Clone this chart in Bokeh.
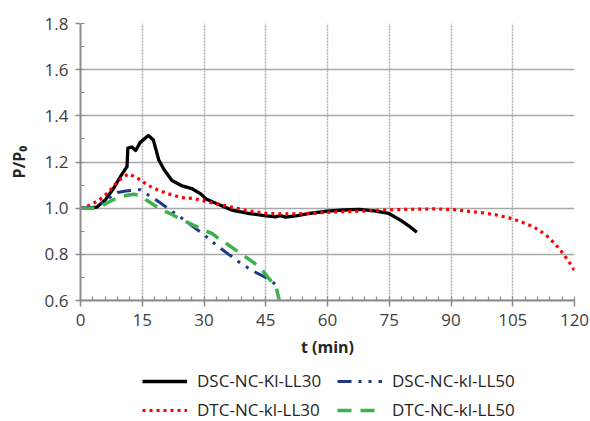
from bokeh.plotting import figure
from bokeh.models import Range1d, SingleIntervalTicker, Legend, LegendItem, PrintfTickFormatter
from bokeh.layouts import column
from bokeh.embed import file_html
from bokeh.resources import INLINE

# ---- data ----
t_dsc30 = [0, 2, 4, 6, 8, 10, 11.3, 11.5, 12.5, 13.4, 14.5, 16.5, 17.7, 19, 20.2, 22.2, 24.5, 27,
           29.2, 30.5, 33, 37, 40.5, 44.6, 47.4, 48.5, 49.8, 52.7, 56, 60, 64, 67.7, 71.3, 74.9,
           77.8, 80, 81.7]
p_dsc30 = [1.0, 1.0, 1.005, 1.035, 1.085, 1.145, 1.18, 1.26, 1.265, 1.25, 1.285, 1.315, 1.295,
           1.21, 1.17, 1.12, 1.098, 1.085, 1.062, 1.04, 1.02, 0.99, 0.978, 0.968, 0.962, 0.968,
           0.961, 0.968, 0.978, 0.987, 0.992, 0.995, 0.988, 0.977, 0.947, 0.92, 0.896]

t_dsc50 = [0, 3, 5, 7, 9, 11, 13, 14.5, 16, 18, 20, 22, 24, 27, 30, 33, 36, 39, 42, 45, 47.8]
p_dsc50 = [1.0, 1.003, 1.02, 1.045, 1.068, 1.074, 1.078, 1.08, 1.062, 1.04, 1.015, 0.99, 0.965,
           0.925, 0.885, 0.84, 0.80, 0.76, 0.727, 0.70, 0.665]

t_dtc30 = [0, 2, 4.4, 6.8, 9.2, 11.7, 14.1, 16.5, 19, 21.4, 24.5, 27.5, 30.8, 34.8, 40.5, 44.6,
           48.6, 52.7, 57.9, 60, 68, 75.4, 80, 86.3, 91.2, 94.4, 97.6, 100.9, 104.1, 106.9, 110.2,
           113, 115.5, 117.1, 119.1, 120]
p_dtc30 = [1.0, 1.011, 1.033, 1.069, 1.12, 1.149, 1.127, 1.098, 1.077, 1.062, 1.046, 1.042,
           1.028, 1.012, 0.99, 0.978, 0.975, 0.975, 0.980, 0.982, 0.987, 0.993, 0.995, 0.997,
           0.993, 0.986, 0.98, 0.971, 0.958, 0.942, 0.918, 0.885, 0.841, 0.806, 0.756, 0.73]

t_dtc50 = [0, 3, 5, 7, 9, 11, 13, 14.5, 16, 18, 20, 22, 24, 27, 30, 32, 34, 36, 38, 40, 42, 44,
           46, 47.5, 48.3]
p_dtc50 = [1.0, 1.0, 1.008, 1.028, 1.045, 1.055, 1.06, 1.055, 1.035, 1.012, 0.99, 0.975, 0.955,
           0.93, 0.905, 0.89, 0.862, 0.84, 0.815, 0.79, 0.765, 0.735, 0.69, 0.66, 0.6]

labels = ["DSC-NC-Kl-LL30", "DSC-NC-kl-LL50", "DTC-NC-kl-LL30", "DTC-NC-kl-LL50"]
x_ticks_interval = 15
y_ticks_interval = 0.2

FONT = "Open Sans"

series = [
    (t_dsc30, p_dsc30, dict(line_color="black", line_width=3.3, line_join="round")),
    (t_dsc50, p_dsc50, dict(line_color="#1c3a87", line_width=3, line_dash="14 7 3 7 3 7")),
    (t_dtc30, p_dtc30, dict(line_color="#ff0000", line_width=3.2, line_dash="3 4")),
    (t_dtc50, p_dtc50, dict(line_color="#3cb34a", line_width=3.5, line_dash="14 9")),
]
draw_order = [0, 2, 1, 3]

# ---- main chart ----
p = figure(width=590, height=365, output_backend="svg", toolbar_location=None,
           x_range=Range1d(0, 120), y_range=Range1d(0.6, 1.8),
           min_border_left=80, min_border_right=16, min_border_top=23, min_border_bottom=65)
p.outline_line_color = None

for i in draw_order:
    t, v, st = series[i]
    p.line(t, v, **st)

p.xaxis.ticker = SingleIntervalTicker(interval=x_ticks_interval, num_minor_ticks=5)
p.yaxis.ticker = SingleIntervalTicker(interval=y_ticks_interval, num_minor_ticks=2)
p.yaxis.formatter = PrintfTickFormatter(format="%.1f")

for ax in (p.xaxis[0], p.yaxis[0]):
    ax.axis_line_color = "#8c8c8c"
    ax.axis_line_width = 2
    ax.major_tick_line_color = "#8c8c8c"
    ax.minor_tick_line_color = "#8c8c8c"
    ax.major_tick_line_width = 1.5
    ax.minor_tick_line_width = 1.2
    ax.major_tick_in = 0
    ax.major_tick_out = 5
    ax.minor_tick_in = 4
    ax.minor_tick_out = 0
    ax.major_label_text_font = FONT
    ax.major_label_text_font_size = "17px"
    ax.major_label_text_color = "#404040"
    ax.axis_label_text_font = FONT
    ax.axis_label_text_font_size = "16px"
    ax.axis_label_text_font_style = "bold"
    ax.axis_label_text_color = "#262626"

p.xaxis.major_tick_out = 6
p.xaxis.major_label_standoff = 7
p.yaxis.major_label_standoff = 7
p.xaxis.axis_label = "t (min)"
p.yaxis.axis_label = "P/P\u2080"
p.xaxis.axis_label_standoff = 7
p.yaxis.axis_label_standoff = 12

p.ygrid.grid_line_color = "#a8a8a8"
p.ygrid.grid_line_width = 1.5
p.xgrid.grid_line_color = "#b0b0b0"
p.xgrid.grid_line_width = 1.5
p.xgrid.grid_line_dash = "2 1"

# ---- legend strip (same series, drawn out of view; only the legend shows) ----
lg_fig = figure(width=590, height=56, output_backend="svg", toolbar_location=None,
                x_range=Range1d(1000, 1001), y_range=Range1d(1000, 1001),
                x_axis_type=None, y_axis_type=None,
                min_border_left=0, min_border_right=0, min_border_top=0, min_border_bottom=0)
lg_fig.outline_line_color = None
lg_rs = []
for i in range(4):
    t, v, st = series[i]
    lg_rs.append(lg_fig.line(t, v, **st))

legend = Legend(items=[LegendItem(label=labels[i], renderers=[lg_rs[i]]) for i in range(4)],
                orientation="horizontal", ncols=2, location=(62, 0),
                glyph_width=45, glyph_height=20, label_height=20, label_width=134,
                label_standoff=10, spacing=6, padding=0, margin=0,
                label_text_font=FONT, label_text_font_size="17px", label_text_color="#262626",
                background_fill_alpha=0, border_line_alpha=0)
lg_fig.add_layout(legend, "center")

layout = column(p, lg_fig, spacing=0)
open("out.html", "w").write(file_html(layout, INLINE))
